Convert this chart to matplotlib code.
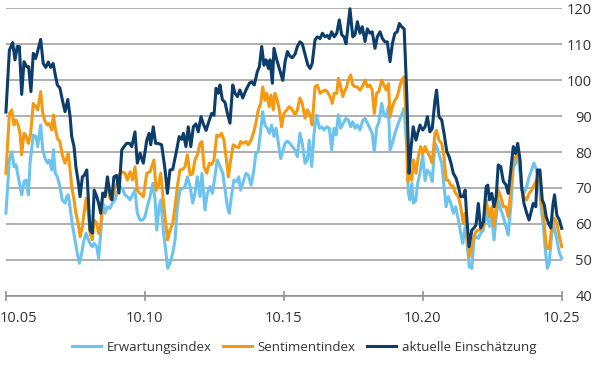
import numpy as np
import matplotlib.pyplot as plt
from matplotlib.transforms import ScaledTranslation

plt.rcParams['font.family'] = ['Open Sans', 'DejaVu Sans']

# months since Oct 2005, index value
erwartung = [
    (0.1, 63), (1.6, 77.8), (2.6, 80.1), (3.6, 75.9), (4.4, 76.5), (5.4, 73.1), (6.2, 70.4), (6.9, 68.1),
    (7.9, 71.8), (8.8, 72.2), (9.8, 68.1), (10.5, 76.9), (11.9, 84.7), (13.0, 84.3), (13.8, 81.5), (15.1, 87.5),
    (16.0, 80.6), (17.0, 78.2), (18.0, 76.9), (18.8, 77.8), (19.9, 75), (20.6, 80.6), (21.4, 74.1), (22.3, 73.1),
    (23.4, 70.4), (24.4, 66.7), (25.6, 65.8), (26.3, 67.6), (27.0, 68.1), (28.1, 63), (28.9, 59.3), (29.9, 55.6),
    (30.9, 51.9), (31.8, 49.1), (32.8, 51.9), (33.8, 55.6), (34.7, 57.4), (35.7, 55.6), (36.4, 54.6), (37.4, 53.7),
    (38.2, 54.6), (39.3, 53.7), (40.1, 50.5), (41.0, 57.4), (41.9, 65.8), (42.9, 63), (43.9, 64.8), (45.0, 64.3),
    (46.0, 65.8), (47.2, 66.7), (48.2, 69), (49.3, 70.4), (50.3, 69.9), (51.5, 68.1), (52.5, 67.6), (53.7, 66.7),
    (54.8, 68.1), (55.8, 69.4), (56.8, 63), (58.0, 61.1), (59.1, 61.1), (60.1, 62), (61.1, 64.8), (62.3, 67.6),
    (63.5, 71.3), (64.5, 66.7), (65.2, 58.3), (66.2, 64.8), (67.0, 66.7), (68.0, 58.3), (69.2, 51.9), (69.9, 47.7),
    (70.9, 49.1), (72.1, 51.9), (73.1, 55.6), (74.1, 64.8), (75.2, 69.4), (76.4, 69.9), (77.4, 70.4), (78.4, 73.1),
    (79.6, 70.4), (80.7, 65.8), (81.7, 68.5), (82.7, 73.1), (83.9, 67.6), (84.7, 74.1), (86.0, 63.9), (87.0, 68.5),
    (88.2, 70.4), (89.2, 68.5), (90.3, 73.1), (91.3, 77.8), (92.5, 76), (93.7, 74.1), (94.7, 69.4), (95.7, 64.8),
    (96.5, 63), (97.6, 68.5), (98.5, 72.2), (99.7, 71.8), (100.6, 73.1), (101.4, 69.4), (102.6, 71.8), (103.7, 74.1),
    (104.7, 73.6), (105.9, 70.8), (106.9, 74.1), (108.0, 79.6), (109.0, 80.1), (110.1, 86.1), (110.9, 91.2),
    (111.9, 87.5), (112.9, 86.6), (113.8, 85.2), (114.8, 87.5), (115.8, 84.3), (116.7, 86.6), (117.7, 82.4),
    (118.7, 78.2), (120.6, 82.4), (121.6, 83), (122.7, 82.4), (123.7, 81.5), (124.9, 80.6), (125.9, 78.7),
    (127.0, 85.2), (128.0, 82.4), (129.2, 76.9), (130.2, 77.8), (131.0, 83.3), (132.1, 76), (133.1, 85.2),
    (134.2, 90.3), (135.4, 86.6), (136.4, 87), (137.4, 86.1), (138.6, 87), (139.7, 86.6), (140.7, 80.6),
    (141.7, 86.6), (142.6, 84.7), (143.6, 90.3), (144.6, 86.6), (145.7, 88), (146.8, 89.3), (147.9, 88.9),
    (148.9, 87), (149.8, 88.4), (150.8, 86.6), (151.8, 87.5), (152.9, 86.1), (154.1, 88.7), (155.1, 89.3),
    (156.1, 88), (157.2, 86.6), (158.2, 85.2), (159.1, 80.1), (160.1, 86.6), (161.1, 88.4), (162.3, 93.5),
    (163.3, 90.3), (164.2, 89.8), (165.2, 92.6), (165.9, 80.6), (166.9, 82.4), (168.0, 85.2), (169.0, 87),
    (169.9, 88.7), (170.9, 90.3), (171.9, 92.1), (173.1, 81.5), (173.8, 68.5), (174.5, 66.7), (175.3, 71.3),
    (176.0, 65.8), (177.0, 66.5), (177.8, 71.3), (178.8, 74.1), (180.0, 79.2), (181.0, 72), (182.0, 75),
    (183.1, 74.1), (184.1, 71.8), (185.3, 82.4), (186.0, 81.5), (187.0, 79.6), (188.2, 76.9), (189.2, 70.4),
    (190.1, 64.8), (191.0, 67.6), (192.1, 65.8), (193.2, 63), (194.2, 64.8), (195.4, 61.1), (196.4, 57.4),
    (197.3, 54.6), (198.3, 59.3), (199.0, 55.6), (200.1, 48.1), (201.2, 47.7), (202.1, 55.6), (203.0, 56.5),
    (204.0, 56), (205.0, 57.4), (206.2, 58.3), (207.4, 63.9), (208.1, 61.1), (208.8, 59.3), (209.8, 62),
    (210.8, 55.6), (211.7, 62), (212.6, 66.7), (213.7, 63.9), (214.8, 62), (215.9, 59.3), (216.9, 56.9),
    (218.0, 64.8), (219.1, 75.9), (220.1, 76.9), (221.0, 79.6), (222.0, 74.5), (222.7, 69.4), (223.7, 68.5),
    (224.9, 70.4), (225.9, 73.1), (227.0, 75), (228.0, 76.9), (229.2, 75), (230.2, 72.2), (231.1, 64.8),
    (232.1, 59.3), (232.8, 53.7), (233.8, 47.7), (234.6, 49.1), (235.7, 57.4), (236.7, 59.3), (237.9, 55.6),
    (239.0, 51.9), (240.0, 50.5),
]

sentiment = [
    (0.1, 74.1), (1.6, 90.7), (2.6, 91.7), (3.6, 87.5), (4.4, 88.9), (5.4, 87.5), (6.2, 85.2), (6.9, 79.2),
    (7.9, 85.2), (8.8, 84.5), (9.8, 82.4), (10.8, 85.2), (11.9, 93.5), (13.0, 92.6), (13.8, 91.7), (15.1, 96.8),
    (16.0, 90.7), (17.0, 88.4), (18.0, 87.5), (18.8, 87.9), (19.9, 86.1), (20.6, 90.3), (21.4, 86.6), (22.3, 83.8),
    (23.4, 82.9), (24.4, 79.2), (25.6, 76.9), (26.3, 78.2), (27.0, 79.6), (27.8, 75), (28.5, 70.4), (29.5, 66.7),
    (30.3, 63), (31.3, 60.2), (32.1, 56.5), (33.1, 59.3), (33.8, 63), (34.7, 67.1), (35.7, 63), (36.4, 57.4),
    (37.4, 55.6), (38.2, 61.1), (39.3, 60.2), (40.1, 57.4), (41.0, 59.3), (41.9, 67.6), (42.9, 68.5), (43.9, 70.4),
    (45.0, 67.1), (46.0, 66.7), (47.2, 70.4), (48.2, 71.3), (49.3, 74.1), (50.3, 74.5), (51.5, 74.1), (52.5, 72.2),
    (53.7, 74.5), (54.8, 72.2), (55.8, 75.9), (56.8, 69.4), (58.0, 68.5), (59.4, 67.6), (60.9, 74.1), (62.3, 74.5),
    (64.0, 77.8), (64.9, 69.4), (65.9, 70.4), (66.9, 74.1), (68.0, 66.7), (69.2, 59.3), (69.9, 55.6), (70.9, 58.3),
    (72.1, 60.2), (73.1, 64.8), (74.1, 70.4), (75.2, 75), (76.4, 75.2), (77.4, 75.9), (78.4, 79.2), (79.6, 73.6),
    (80.7, 74), (81.7, 77.8), (82.7, 79.2), (83.9, 82.4), (84.7, 82.9), (85.6, 75.9), (86.8, 74.1), (87.9, 76.9),
    (88.9, 76.5), (89.9, 77.8), (91.1, 84.7), (92.1, 84.3), (93.2, 85.2), (94.2, 83.3), (95.1, 78.7), (96.1, 73.1),
    (97.1, 77.8), (98.2, 82), (99.4, 81.5), (100.6, 81.2), (101.4, 82.9), (102.6, 82.4), (103.7, 82.9),
    (104.7, 82), (105.9, 83.3), (106.9, 85.2), (108.0, 88), (109.0, 91.7), (110.1, 93.5), (110.9, 98.1),
    (111.9, 94.4), (112.7, 96.3), (113.7, 92.6), (114.5, 95.8), (115.5, 91.7), (116.2, 96.3), (117.2, 94.4),
    (118.1, 91.7), (119.1, 87), (120.1, 90.7), (121.3, 91.7), (122.4, 92.6), (123.7, 91.7), (124.9, 90.3),
    (125.9, 91.7), (127.0, 95), (128.0, 93.5), (129.2, 89.4), (130.2, 91.7), (131.4, 90.3), (132.3, 87.5),
    (133.5, 98.1), (134.5, 98.6), (135.7, 96.3), (136.7, 96.8), (137.8, 97.2), (138.8, 96.8), (140.0, 95.4),
    (141.0, 93.5), (141.8, 96.3), (142.9, 96.3), (143.6, 100.5), (144.6, 98.1), (145.5, 95.4), (146.5, 97.2),
    (147.2, 98.1), (147.9, 100), (148.9, 101.4), (149.8, 98.6), (150.8, 98.1), (151.8, 98.1), (152.9, 97.2),
    (153.9, 98.1), (155.1, 100), (156.1, 98.1), (157.2, 98.6), (158.2, 97.2), (159.1, 90.7), (160.1, 96.3),
    (161.1, 96.8), (162.3, 100), (163.3, 98.6), (164.2, 97.2), (165.2, 99), (165.9, 89.8), (166.9, 92.6),
    (168.0, 94.4), (169.0, 95.4), (169.9, 97.7), (170.9, 100), (171.9, 100.9), (172.8, 90), (173.6, 71.8),
    (174.2, 74.1), (175.3, 72.2), (176.0, 77.8), (177.1, 74.1), (178.1, 78.7), (179.1, 81.5), (180.0, 79.6),
    (181.0, 81.5), (182.0, 80.1), (183.1, 78.7), (184.1, 76.9), (185.3, 85.2), (186.0, 86), (187.0, 83.3),
    (188.2, 82.4), (189.2, 78.7), (190.1, 72.2), (191.0, 72.2), (192.1, 70.8), (193.2, 70.4), (194.2, 68.5),
    (195.4, 67.6), (196.4, 64.8), (197.5, 60.2), (198.3, 63), (199.0, 58.3), (200.1, 50.9), (201.2, 53.7),
    (202.1, 56.5), (203.0, 57.9), (204.0, 58.3), (205.0, 58.3), (206.2, 59.3), (207.4, 66.7), (208.1, 63.9),
    (208.8, 62), (209.8, 64.8), (210.8, 59.3), (211.7, 64.8), (212.6, 69.4), (213.7, 67.6), (214.8, 64.8),
    (215.9, 64.8), (216.9, 62), (218.0, 69.4), (219.1, 77.8), (220.1, 78.7), (221.0, 81.5), (222.0, 76.9),
    (222.7, 70.4), (223.7, 67.6), (224.9, 66.7), (225.9, 68.5), (227.0, 69.4), (228.0, 70.8), (229.2, 72.2),
    (230.2, 74.1), (231.1, 66.7), (232.1, 63), (232.8, 57.4), (233.5, 53.2), (234.6, 53.2), (235.7, 59.3),
    (236.7, 61.6), (237.9, 60.2), (239.0, 56.5), (240.0, 53.7),
]

aktuell = [
    (0.1, 91.1), (1.6, 108.3), (3.0, 110.4), (4.0, 105.6), (5.0, 109.3), (5.9, 109.3), (6.9, 96), (7.9, 105.1),
    (9.1, 103.7), (9.9, 103.7), (10.9, 96.8), (11.9, 107.4), (12.9, 106), (13.6, 107.5), (15.1, 111.3),
    (16.2, 104.6), (17.3, 103.5), (18.4, 105), (19.4, 103.5), (20.5, 104.6), (21.4, 101.4), (22.3, 98.6),
    (23.4, 97.8), (24.4, 94.6), (25.6, 91.2), (26.8, 94.6), (27.8, 89.8), (28.5, 84.3), (29.5, 81.5),
    (30.3, 75.9), (31.3, 71.8), (32.1, 67.6), (33.1, 73.1), (33.9, 73.5), (35.0, 75), (35.7, 66.7), (36.4, 58.3),
    (37.4, 57.5), (38.2, 69.4), (39.3, 67.6), (40.1, 65.8), (41.0, 63), (41.9, 68.6), (42.9, 67.6), (43.9, 73.1),
    (45.0, 68.6), (45.8, 66.7), (46.7, 73.1), (47.9, 73.5), (48.9, 68.6), (50.1, 80.6), (51.1, 81.5), (52.2, 82.4),
    (53.4, 82.4), (54.4, 81.5), (55.8, 85.6), (56.8, 76.9), (58.0, 79.6), (59.4, 76.9), (60.9, 83.3), (61.9, 85.2),
    (62.6, 82), (63.7, 87), (64.7, 82.4), (65.7, 82.4), (67.3, 82), (68.8, 75), (69.8, 68.5), (70.9, 75),
    (72.1, 75.2), (73.5, 79.6), (74.9, 84.3), (76.0, 83.5), (76.7, 85.2), (77.8, 81.5), (78.8, 87), (79.9, 81.5),
    (81.0, 87), (82.1, 87.8), (83.1, 85.6), (84.3, 89.8), (85.3, 87.8), (86.5, 86), (87.8, 88.7), (88.9, 90.7),
    (89.9, 90.2), (90.8, 97.7), (91.8, 96.3), (92.5, 98.6), (93.5, 94.6), (94.7, 93.7), (95.7, 90.7), (96.8, 88),
    (98.0, 98.6), (99.0, 96.3), (100.0, 95.4), (101.1, 97.2), (102.3, 95), (103.7, 97.2), (105.2, 99.1),
    (106.2, 99.5), (107.3, 98.6), (108.6, 102.3), (109.5, 103.7), (110.5, 109.3), (111.5, 104.1), (112.4, 105.6),
    (113.4, 103.2), (114.1, 105.6), (115.1, 99.1), (115.8, 108.8), (117.0, 105.6), (118.1, 103.2), (119.6, 99.9),
    (120.6, 105.1), (121.6, 107.9), (122.7, 106.6), (123.7, 106.2), (124.9, 107.2), (125.9, 109.3), (127.0, 110.6),
    (128.0, 110.1), (129.2, 107.2), (130.4, 104.2), (131.4, 103.2), (132.3, 104.6), (133.5, 111.1), (134.5, 112),
    (135.7, 111.5), (136.7, 113), (137.8, 112), (138.8, 112.4), (139.7, 111.5), (140.7, 113.4), (141.8, 112),
    (142.9, 113), (144.0, 116.7), (145.0, 112.6), (146.0, 112), (146.9, 110.1), (147.9, 115.7), (148.6, 119.8),
    (149.8, 112), (150.8, 112.6), (151.8, 116.2), (152.9, 113), (153.9, 114.8), (155.1, 110.7), (156.1, 114.2),
    (157.2, 113), (158.2, 113.4), (159.4, 108.8), (160.4, 112), (161.6, 113.4), (162.6, 111.5), (163.7, 110.6),
    (164.7, 110.6), (165.9, 105.1), (166.9, 110.1), (168.0, 113), (169.0, 113.4), (169.9, 115.7), (170.9, 114.8),
    (172.0, 114.2), (173.1, 96.3), (174.1, 74.1), (175.0, 81.5), (175.9, 87), (177.1, 83.3), (178.8, 87.5),
    (180.0, 86.1), (181.0, 87), (182.0, 89.8), (183.1, 85.6), (184.1, 86.5), (185.3, 94.4), (186.0, 97.2),
    (187.0, 89.8), (188.2, 88.9), (189.2, 85.2), (190.4, 80.1), (191.4, 78.7), (192.2, 76.9), (193.2, 74.1),
    (194.4, 72.7), (195.4, 70.4), (196.4, 67.6), (197.5, 67.6), (198.3, 69.4), (199.0, 62), (200.0, 53.7),
    (201.2, 58.3), (202.1, 58.9), (203.0, 59.7), (204.0, 65.7), (205.0, 58.9), (206.2, 60.5), (207.4, 70.4),
    (208.1, 70.8), (208.8, 66.7), (209.8, 68.5), (210.8, 64.8), (211.7, 67.6), (212.6, 76.4), (213.7, 75.9),
    (214.8, 71.8), (215.9, 70.9), (216.9, 68.5), (218.0, 75), (219.1, 81.5), (220.1, 79.6), (221.0, 82.4),
    (222.0, 77.8), (222.7, 70.4), (223.7, 65.7), (224.9, 63), (225.9, 61.1), (227.0, 63.9), (227.7, 65.7),
    (228.8, 64.8), (229.5, 75), (230.6, 75), (231.6, 66.7), (232.5, 65.3), (233.3, 62), (234.3, 60.2),
    (235.3, 58.9), (236.2, 65.3), (236.9, 68.1), (237.9, 62.4), (239.0, 61.1), (240.0, 58.8),
]

tick_months = [0, 60, 120, 180, 240]
tick_labels = ['10.05', '10.10', '10.15', '10.20', '10.25']
legend_labels = ['Erwartungsindex', 'Sentimentindex', 'aktuelle Einschätzung']
colors = ['#6cc4ee', '#f39a12', '#0c3d6b']

fig = plt.figure(figsize=(6, 3.8), dpi=100)
ax = fig.add_axes([0.0095, 0.2211, 0.9267, 0.7578])

for data, lab, col in zip([erwartung, sentiment, aktuell], legend_labels, colors):
    arr = np.array(data)
    ax.plot(arr[:, 0], arr[:, 1], color=col, lw=2.2, label=lab, clip_on=False,
            solid_joinstyle='round')

ax.set_xlim(0, 240)
ax.set_ylim(40, 120)
ax.set_yticks(range(40, 121, 10))
ax.grid(axis='y', color='#9a9a96', lw=1.1)
ax.set_axisbelow(True)
for s in ['top', 'left', 'right']:
    ax.spines[s].set_visible(False)
ax.spines['bottom'].set_color('#8c8c8c')
ax.spines['bottom'].set_linewidth(1.1)

ax.yaxis.tick_right()
ax.tick_params(axis='y', length=0, pad=22, labelsize=10.5, labelcolor='#333333')
for t in ax.get_yticklabels():
    t.set_ha('right')

ax.set_xticks(tick_months)
ax.set_xticklabels(tick_labels, fontsize=10.5, color='#333333')
ax.tick_params(axis='x', direction='inout', length=7, width=1.1, color='#8c8c8c', pad=7)
first = ax.get_xticklabels()[0]
first.set_ha('left')
first.set_transform(first.get_transform() + ScaledTranslation(-0.057, 0, fig.dpi_scale_trans))

fig.legend(loc='center', bbox_to_anchor=(0.507, 0.086), ncol=3, frameon=False,
           prop={'size': 9.5}, handlelength=2.2, handletextpad=0.4, columnspacing=0.9,
           labelcolor='#333333')

fig.savefig('out.png', dpi=100)
